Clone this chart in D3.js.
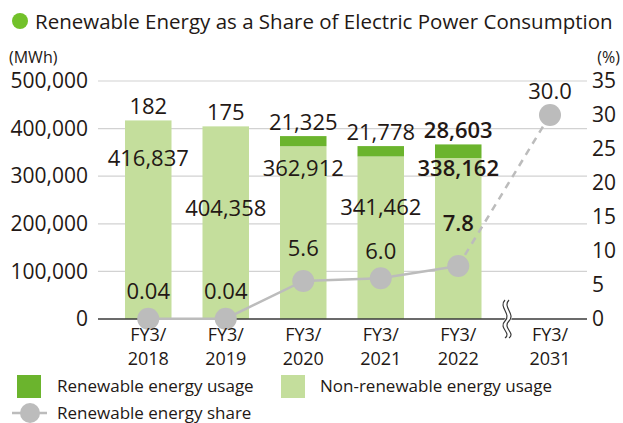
<!DOCTYPE html>
<html>
<head>
<meta charset="utf-8">
<script src="https://cdn.jsdelivr.net/npm/d3@7"></script>
<style>
  html, body { margin: 0; padding: 0; background: #fff; }
  svg { display: block; font-family: "Open Sans", "Noto Sans", sans-serif; }
</style>
</head>
<body>
<svg id="chart" width="623" height="423"></svg>
<script>
// Fiscal years with measured results
const years = ["2018", "2019", "2020", "2021", "2022"];
// Target year shown after the axis break
const targetYear = "2031";

// Electricity consumption (MWh)
const renewable = [182, 175, 21325, 21778, 28603];
const nonRenewable = [416837, 404358, 362912, 341462, 338162];

// Renewable share of consumption (%)
const shareLabels = ["0.04", "0.04", "5.6", "6.0", "7.8"];
const share = [0.04, 0.04, 5.6, 6.0, 7.8];
const targetShareLabel = "30.0";
const targetShare = 30.0;

// Axis ticks
const leftTicks = [0, 100000, 200000, 300000, 400000, 500000];
const rightTicks = [0, 5, 10, 15, 20, 25, 30, 35];

// Label placement tweaks (vertical offsets, px)
const nonRenLabelDy = [36, 80, 21, 50, 9];
const shareLabelDy = [-29, -29, -34, -28, -44];
const targetLabelDy = -25;
const boldYear = "2022";

const C = {
  renew: "#6bb42d",
  nonRenew: "#c4de9c",
  share: "#bcbcbc",
  grid: "#d2d2d2",
  axis: "#3a3a3a",
  text: "#231815",
  bullet: "#72c12a"
};

const svg = d3.select("#chart");
const plot = { left: 98, right: 587, top: 81, bottom: 319 };

const y = d3.scaleLinear().domain([0, 500000]).range([plot.bottom, plot.top]);
const yR = d3.scaleLinear().domain([0, 35]).range([plot.bottom, plot.top]);
const x = d3.scaleBand().domain(years).range([109.5, 497]).paddingInner(0.4).paddingOuter(0.2);
const xT = d3.scaleBand().domain([targetYear]).range([513, 587]);
const cx = d => x(d) + x.bandwidth() / 2;
const cxT = xT(targetYear) + xT.bandwidth() / 2;

// Title
svg.append("circle").attr("cx", 20).attr("cy", 21).attr("r", 8).attr("fill", C.bullet);
svg.append("text").attr("x", 35).attr("y", 28.5)
  .attr("font-size", 20.5).attr("fill", C.text)
  .text("Renewable Energy as a Share of Electric Power Consumption");

// Units
svg.append("text").attr("x", 9).attr("y", 63).attr("font-size", 16).attr("fill", C.text).text("(MWh)");
svg.append("text").attr("x", 620).attr("y", 63).attr("font-size", 16).attr("fill", C.text)
  .attr("text-anchor", "end").text("(%)");

// Gridlines
svg.append("g").selectAll("line").data(leftTicks.slice(1)).join("line")
  .attr("x1", plot.left).attr("x2", plot.right)
  .attr("y1", d => y(d)).attr("y2", d => y(d))
  .attr("stroke", C.grid).attr("stroke-width", 1.2);

// Left axis
const gL = svg.append("g").attr("transform", `translate(${plot.left},0)`)
  .call(d3.axisLeft(y).tickValues(leftTicks).tickSize(0).tickPadding(10)
    .tickFormat(d3.format(",")));
gL.select(".domain").remove();
gL.selectAll("text").attr("font-size", 21).attr("fill", C.text)
  .attr("font-family", "Open Sans, sans-serif");

// Right axis
const gR = svg.append("g").attr("transform", `translate(${plot.right},0)`)
  .call(d3.axisRight(yR).tickValues(rightTicks).tickSize(0).tickPadding(5));
gR.select(".domain").remove();
gR.selectAll("text").attr("font-size", 21).attr("fill", C.text)
  .attr("font-family", "Open Sans, sans-serif");

// Stacked bars
const bars = svg.append("g");
years.forEach((yr, i) => {
  const base = nonRenewable[i];
  bars.append("rect")
    .attr("x", x(yr)).attr("width", x.bandwidth())
    .attr("y", y(base)).attr("height", y(0) - y(base))
    .attr("fill", C.nonRenew);
  bars.append("rect")
    .attr("x", x(yr)).attr("width", x.bandwidth())
    .attr("y", y(base + renewable[i])).attr("height", y(base) - y(base + renewable[i]))
    .attr("fill", C.renew);
});

// Baseline
svg.append("line").attr("x1", plot.left).attr("x2", plot.right)
  .attr("y1", plot.bottom).attr("y2", plot.bottom)
  .attr("stroke", C.axis).attr("stroke-width", 1.3);

// Axis break marker
const brk = svg.append("g").attr("transform", "translate(505,319)");
const wave = "M0,-19 C-7,-12 7,-5 0,2 C-7,9 7,14 0,19";
brk.append("path").attr("d", wave).attr("transform", "translate(2,0)")
  .attr("fill", "none").attr("stroke", "#fff").attr("stroke-width", 6);
brk.append("path").attr("d", wave).attr("fill", "none").attr("stroke", C.axis).attr("stroke-width", 1.2);
brk.append("path").attr("d", wave).attr("transform", "translate(4,0)")
  .attr("fill", "none").attr("stroke", C.axis).attr("stroke-width", 1.2);

// Share line: measured (solid) and toward target (dashed)
const lineGen = d3.line().x(d => d[0]).y(d => d[1]);
const sharePts = years.map((yr, i) => [cx(yr), yR(share[i])]);
svg.append("path").datum(sharePts).attr("d", lineGen)
  .attr("fill", "none").attr("stroke", C.share).attr("stroke-width", 2.5);
svg.append("path").datum([sharePts[sharePts.length - 1], [cxT, yR(targetShare)]]).attr("d", lineGen)
  .attr("fill", "none").attr("stroke", C.share).attr("stroke-width", 2.5)
  .attr("stroke-dasharray", "7,6");
svg.append("g").selectAll("circle").data(sharePts.concat([[cxT, yR(targetShare)]])).join("circle")
  .attr("cx", d => d[0]).attr("cy", d => d[1]).attr("r", 11).attr("fill", C.share);

// Value labels
const labels = svg.append("g").attr("font-size", 22).attr("fill", C.text)
  .attr("text-anchor", "middle").attr("dominant-baseline", "central");
const fmt = d3.format(",");
years.forEach((yr, i) => {
  const w = yr === boldYear ? 600 : 400;
  labels.append("text").attr("x", cx(yr))
    .attr("y", y(nonRenewable[i] + renewable[i]) - 15)
    .attr("font-weight", w).text(fmt(renewable[i]));
  labels.append("text").attr("x", cx(yr))
    .attr("y", y(nonRenewable[i]) + nonRenLabelDy[i])
    .attr("font-weight", w).text(fmt(nonRenewable[i]));
  labels.append("text").attr("x", cx(yr))
    .attr("y", yR(share[i]) + shareLabelDy[i])
    .attr("font-weight", w).text(shareLabels[i]);
});
labels.append("text").attr("x", cxT).attr("y", yR(targetShare) + targetLabelDy).text(targetShareLabel);

// Category labels
const cats = years.map(yr => [cx(yr), yr]).concat([[cxT, targetYear]]);
const catG = svg.append("g").attr("font-size", 18).attr("fill", C.text).attr("text-anchor", "middle");
cats.forEach(([px, yr]) => {
  catG.append("text").attr("x", px).attr("y", 341).text("FY3/");
  catG.append("text").attr("x", px).attr("y", 365).text(yr);
});

// Legend
const lg = svg.append("g").attr("font-size", 17).attr("fill", C.text);
lg.append("rect").attr("x", 17).attr("y", 375).attr("width", 24).attr("height", 23).attr("fill", C.renew);
lg.append("text").attr("x", 57).attr("y", 392).text("Renewable energy usage");
lg.append("rect").attr("x", 281).attr("y", 375).attr("width", 24).attr("height", 23).attr("fill", C.nonRenew);
lg.append("text").attr("x", 320).attr("y", 392).text("Non-renewable energy usage");
lg.append("line").attr("x1", 12).attr("x2", 47).attr("y1", 413).attr("y2", 413)
  .attr("stroke", C.share).attr("stroke-width", 2.5);
lg.append("circle").attr("cx", 30).attr("cy", 413).attr("r", 10).attr("fill", C.share);
lg.append("text").attr("x", 57).attr("y", 419).text("Renewable energy share");
</script>
</body>
</html>
